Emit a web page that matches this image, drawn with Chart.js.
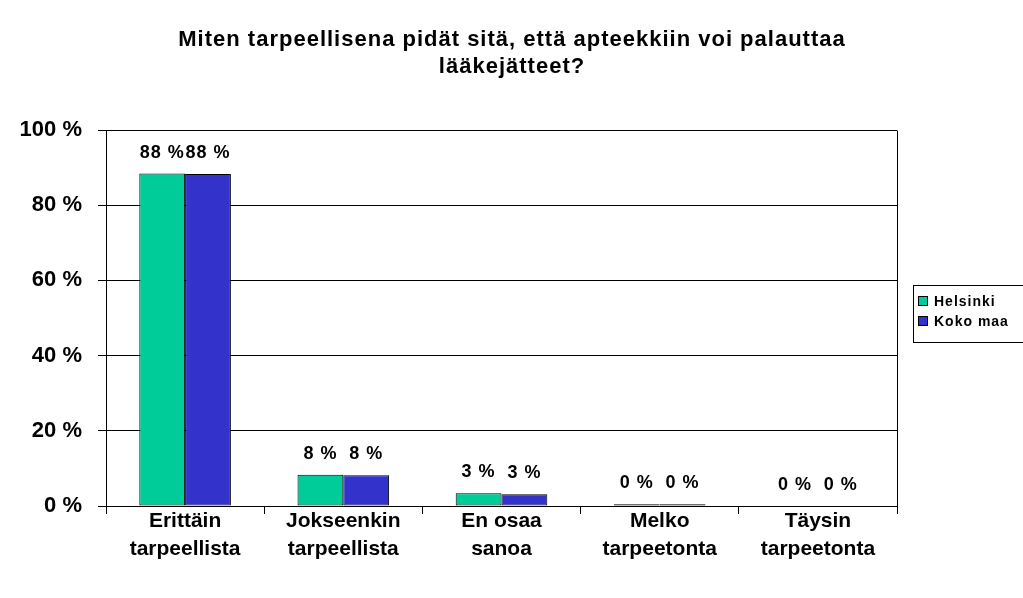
<!DOCTYPE html>
<html>
<head>
<meta charset="utf-8">
<script src="https://cdn.jsdelivr.net/npm/chart.js@4/dist/chart.umd.min.js"></script>
<style>
  body { margin: 0; background: #fff; }
  #wrap { width: 1023px; height: 598px; position: relative; }
</style>
</head>
<body>
<div id="wrap"><canvas id="chart"></canvas></div>
<script>
var titleLines = ['Miten tarpeellisena pidät sitä, että apteekkiin voi palauttaa', 'lääkejätteet?'];
var categories = [
    ['Erittäin', 'tarpeellista'],
    ['Jokseenkin', 'tarpeellista'],
    ['En osaa', 'sanoa'],
    ['Melko', 'tarpeetonta'],
    ['Täysin', 'tarpeetonta']
];
var helsinki = [88.4, 8.3, 3.4, 0.49, 0];
var kokoMaa = [88.3, 8.2, 3.1, 0.49, 0];
var seriesNames = ['Helsinki', 'Koko maa'];
var seriesColors = ['#00CC99', '#3333CC'];
var yTicks = [0, 20, 40, 60, 80, 100];

var FONT = '"Liberation Sans", Arial, sans-serif';

// title, value labels, plot frame and legend drawn by hand
var extras = {
    id: 'extras',
    afterDraw: function (chart) {
        var ctx = chart.ctx;
        var area = chart.chartArea;
        ctx.save();
        // right edge of the plot frame
        ctx.strokeStyle = '#000';
        ctx.lineWidth = 1;
        ctx.beginPath();
        ctx.moveTo(Math.round(area.right) + 0.5, Math.round(area.top) + 0.5);
        ctx.lineTo(Math.round(area.right) + 0.5, Math.round(area.bottom) + 0.5);
        ctx.stroke();

        // title
        ctx.fillStyle = '#000';
        ctx.font = 'bold 22px ' + FONT;
        ctx.letterSpacing = '1px';
        ctx.textAlign = 'center';
        ctx.textBaseline = 'middle';
        titleLines.forEach(function (line, i) {
            ctx.fillText(line, 512, 40 + i * 27);
        });

        // value labels
        ctx.font = 'bold 18px ' + FONT;
        ctx.letterSpacing = '1px';
        chart.data.datasets.forEach(function (ds, di) {
            var meta = chart.getDatasetMeta(di);
            meta.data.forEach(function (bar, i) {
                ctx.fillText(Math.round(ds.data[i]) + ' %', bar.x, bar.y - 21);
            });
        });

        // legend
        var lx = 913, ly = 285;
        ctx.fillStyle = '#fff';
        ctx.fillRect(lx, ly, 112, 57);
        ctx.strokeRect(lx + 0.5, ly + 0.5, 112, 57);
        ctx.font = 'bold 14px ' + FONT;
        ctx.letterSpacing = '1px';
        ctx.textAlign = 'left';
        seriesNames.forEach(function (name, i) {
            var y = ly + 16 + i * 20;
            ctx.fillStyle = seriesColors[i];
            ctx.fillRect(lx + 5, y - 5, 10, 10);
            ctx.strokeRect(lx + 5.5, y - 4.5, 9, 9);
            ctx.fillStyle = '#000';
            ctx.fillText(name, lx + 21, y + 1);
        });
        ctx.restore();
    }
};

var ctx = document.getElementById('chart');
var chart = new Chart(ctx, {
    type: 'bar',
    data: {
        labels: categories,
        datasets: [{
            label: seriesNames[0],
            data: helsinki,
            backgroundColor: seriesColors[0],
            borderColor: '#000',
            borderWidth: 1,
            borderSkipped: false
        }, {
            label: seriesNames[1],
            data: kokoMaa,
            backgroundColor: seriesColors[1],
            borderColor: '#000',
            borderWidth: 1,
            borderSkipped: false
        }]
    },
    options: {
        responsive: true,
        maintainAspectRatio: false,
        animation: false,
        layout: { padding: { top: 130, right: 126, left: 0, bottom: 0 } },
        datasets: { bar: { categoryPercentage: 0.579, barPercentage: 1 } },
        plugins: {
            legend: { display: false },
            title: { display: false },
            tooltip: { enabled: false }
        },
        scales: {
            x: {
                grid: { offset: true, drawOnChartArea: false, color: '#000', tickLength: 8 },
                border: { color: '#000' },
                ticks: {
                    color: '#000',
                    font: { family: FONT, size: 21, weight: 'bold', lineHeight: 1.33 },
                    padding: -7,
                    maxRotation: 0,
                    autoSkip: false
                },
                afterFit: function (scale) { scale.height = 92; }
            },
            y: {
                min: 0,
                max: 100,
                afterBuildTicks: function (scale) {
                    scale.ticks = yTicks.map(function (v) { return { value: v }; });
                },
                grid: { color: '#000', tickLength: 8 },
                border: { color: '#000' },
                ticks: {
                    color: '#000',
                    font: { family: FONT, size: 22, weight: 'bold' },
                    padding: 16,
                    callback: function (v) { return v + ' %'; }
                },
                afterFit: function (scale) { scale.width = 106; }
            }
        }
    },
    plugins: [extras]
});
</script>
</body>
</html>
